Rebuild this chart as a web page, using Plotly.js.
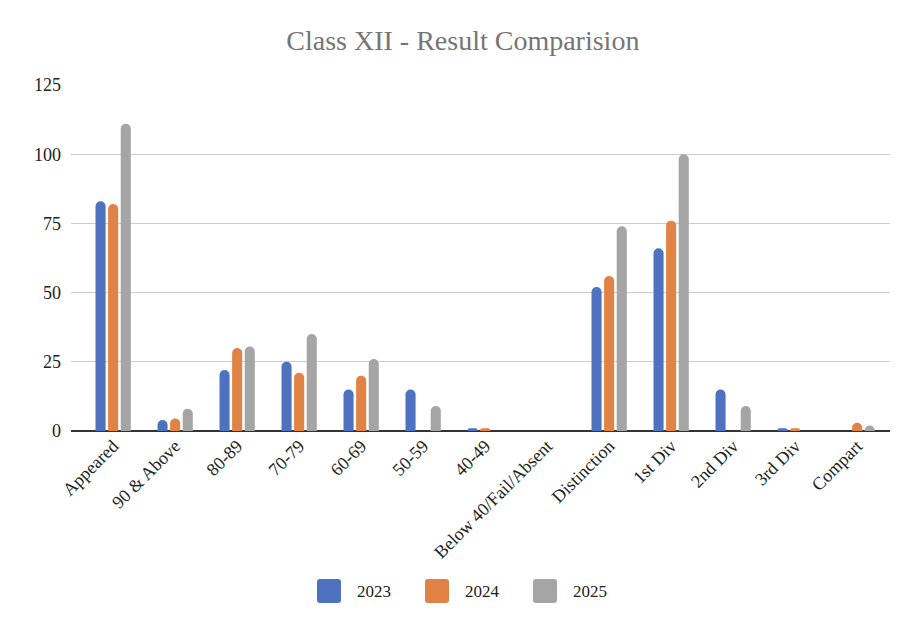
<!DOCTYPE html>
<html>
<head>
<meta charset="utf-8">
<script src="https://cdn.plot.ly/plotly-3.0.1.min.js"></script>
<style>html,body{margin:0;padding:0;background:#fff;}#chart{width:922px;height:634px;}</style>
</head>
<body>
<div id="chart"></div>
<script>
const categories = ["Appeared","90 & Above","80-89","70-79","60-69","50-59","40-49","Below 40/Fail/Absent","Distinction","1st Div","2nd Div","3rd Div","Compart"];
const seriesNames = ["2023","2024","2025"];
const values2023 = [83, 4, 22, 25, 15, 15, 1, 0, 52, 66, 15, 1, 0];
const values2024 = [82, 4.5, 30, 21, 20, 0, 1, 0, 56, 76, 0, 1, 3];
const values2025 = [111, 8, 30.5, 35, 26, 9, 0, 0, 74, 100, 9, 0, 2];
const yTicks = [0, 25, 50, 75, 100, 125];
const colors = ["#4e72c0", "#e08344", "#a5a5a5"];

const allValues = [values2023, values2024, values2025];
const serif = "Liberation Serif";

const traces = allValues.map((v, i) => ({
  type: "bar",
  name: seriesNames[i],
  x: categories,
  y: v,
  marker: {color: colors[i], cornerradius: 5},
  showlegend: false,
  hoverinfo: "x+y+name"
}));

const L = 71, R = 32, T = 85, B = 203, W = 922, H = 634;
const layout = {
  width: W, height: H,
  paper_bgcolor: "#fff", plot_bgcolor: "#fff",
  margin: {l: L, r: R, t: T, b: B},
  title: {text: "Class XII - Result Comparision", x: 0.502, xanchor: "center", y: 0.937, yanchor: "middle",
    font: {family: serif, size: 28, color: "#757575"}},
  barmode: "group",
  bargap: 0.39,
  bargroupgap: 0.2,
  xaxis: {
    type: "category",
    range: [-0.68, 12.53],
    tickangle: -45,
    tickfont: {family: serif, size: 18, color: "#222"},
    showgrid: false, ticks: "", showline: false, zeroline: false,
    fixedrange: true
  },
  yaxis: {
    range: [0, 125],
    tickvals: yTicks,
    ticktext: yTicks.map(String),
    tickfont: {family: serif, size: 18, color: "#222"},
    ticklabelstandoff: 9,
    gridcolor: "#cccccc", gridwidth: 1.2,
    zeroline: true, zerolinecolor: "#333333", zerolinewidth: 2,
    showline: false, ticks: "", ticklen: 0,
    fixedrange: true
  },
  showlegend: false,
  shapes: [],
  annotations: []
};

function roundedRectPath(x0, y0, x1, y1, rx, ry) {
  return `M${x0+rx},${y0} L${x1-rx},${y0} Q${x1},${y0} ${x1},${y0+ry} L${x1},${y1-ry} Q${x1},${y1} ${x1-rx},${y1} L${x0+rx},${y1} Q${x0},${y1} ${x0},${y1-ry} L${x0},${y0+ry} Q${x0},${y0} ${x0+rx},${y0} Z`;
}

// custom legend (large rounded swatches like the reference)
const legendStart = 317, legendStep = 108;
const toPX = p => (p - L) / (W - L - R);
const toPY = p => (H - B - p) / (H - T - B);
seriesNames.forEach((n, i) => {
  const px = legendStart + i * legendStep;
  layout.shapes.push({
    type: "path", xref: "paper", yref: "paper", layer: "above",
    path: roundedRectPath(toPX(px), toPY(603), toPX(px + 24), toPY(579), 3 / (W - L - R), 3 / (H - T - B)),
    line: {width: 0}, fillcolor: colors[i]
  });
  layout.annotations.push({
    xref: "paper", yref: "paper", x: toPX(px + 38), y: toPY(591),
    xanchor: "left", yanchor: "middle", showarrow: false,
    text: n, font: {family: serif, size: 17, color: "#222"}
  });
});

Plotly.newPlot("chart", traces, layout, {displayModeBar: false, staticPlot: true});
</script>
</body>
</html>
